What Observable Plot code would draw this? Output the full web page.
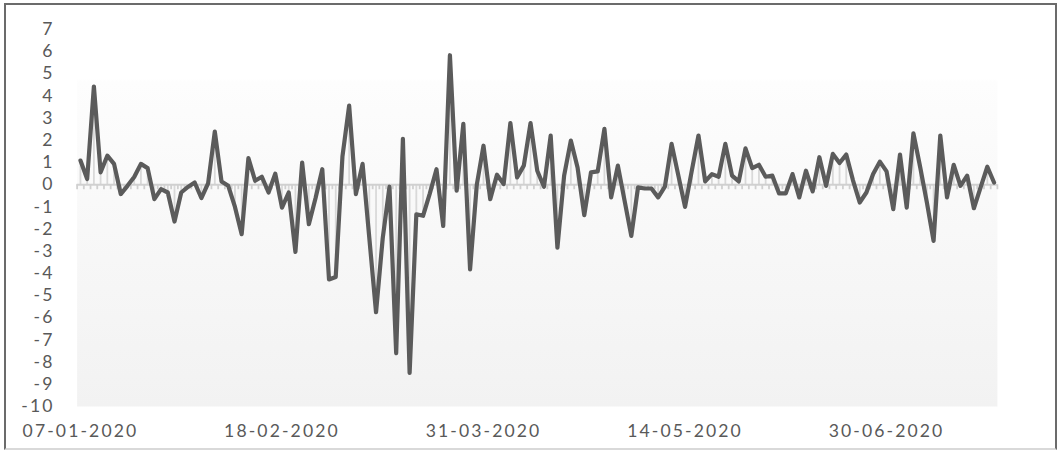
<!DOCTYPE html>
<html>
<head>
<meta charset="utf-8">
<script src="https://cdn.jsdelivr.net/npm/d3@7"></script>
<script src="https://cdn.jsdelivr.net/npm/@observablehq/plot@0.6"></script>
<style>
  html, body { margin: 0; padding: 0; background: #ffffff; }
  #wrap { position: relative; width: 1062px; height: 452px; overflow: hidden; }
  #border { position: absolute; left: 4px; top: 3px; width: 1053px; height: 447px;
            border: 2px solid #6b6b6b; border-bottom-color: #d9d9d9; box-sizing: border-box; pointer-events: none; }
  svg text { font-family: Lato, "Open Sans", sans-serif; }
</style>
</head>
<body>
<div id="wrap"><div id="border"></div></div>
<script>
// Series values (one per trading day, category axis)
const values = [
  1.09, 0.26, 4.43, 0.56, 1.31, 0.94, -0.42, -0.05, 0.35, 0.94,
  0.75, -0.65, -0.2, -0.35, -1.66, -0.35, -0.1, 0.1, -0.6, 0.06,
  2.4, 0.15, -0.05, -1.0, -2.23, 1.2, 0.18, 0.36, -0.35, 0.5,
  -1.03, -0.35, -3.03, 1.0, -1.78, -0.6, 0.7, -4.27, -4.16, 1.27,
  3.57, -0.42, 0.94, -2.4, -5.75, -2.4, -0.09, -7.6, 2.07, -8.49,
  -1.33, -1.4, -0.4, 0.7, -1.86, 5.84, -0.27, 2.75, -3.82, 0.0,
  1.76, -0.65, 0.45, 0.03, 2.78, 0.33, 0.86, 2.78, 0.63, -0.09,
  2.22, -2.84, 0.41, 1.99, 0.78, -1.37, 0.56, 0.6, 2.52, -0.57,
  0.86, -0.72, -2.31, -0.12, -0.17, -0.17, -0.57, -0.09, 1.84, 0.42,
  -1.0, 0.62, 2.22, 0.15, 0.48, 0.36, 1.84, 0.41, 0.15, 1.64,
  0.75, 0.9, 0.36, 0.41, -0.39, -0.39, 0.48, -0.57, 0.63, -0.3,
  1.24, -0.05, 1.39, 0.98, 1.36, 0.2, -0.8, -0.35, 0.48, 1.04,
  0.6, -1.1, 1.36, -1.03, 2.32, 0.8, -0.8, -2.53, 2.22, -0.57,
  0.9, -0.05, 0.41, -1.06, -0.12, 0.81, 0.1
];
// Category tick labels (every 30th category)
const tickIndex = [0, 30, 60, 90, 120];
const tickLabels = ["07-01-2020", "18-02-2020", "31-03-2020", "14-05-2020", "30-06-2020"];
// Value axis ticks
const yTicks = d3.range(-10, 8, 1);

const data = values.map((v, i) => ({i, v}));
const boundaries = d3.range(values.length + 1).map(k => k - 0.5);
const labelData = tickIndex.map((idx, k) => ({i: idx, label: tickLabels[k]}));

const textColor = "#595959";
const fontSize = 17.6;
const ls = "2.1px";

const chart = Plot.plot({
  width: 1062,
  height: 452,
  marginLeft: 76.6,
  marginRight: 65.1,
  marginTop: 29,
  marginBottom: 46,
  style: {background: "transparent", overflow: "visible"},
  x: {type: "linear", domain: [-0.5, values.length - 0.5], axis: null},
  y: {domain: [-10, 7], axis: null},
  marks: [
    Plot.frame({fill: "#f7f7f7", stroke: "none"}),
    Plot.ruleX(data, {x: "i", y1: 0, y2: "v", stroke: "#d9d9d9", strokeWidth: 1.8}),
    Plot.ruleY([0], {stroke: "#d0d0d0", strokeWidth: 2}),
    Plot.ruleX(boundaries, {x: d => d, y1: 0, y2: 0, insetBottom: -5, stroke: "#d0d0d0", strokeWidth: 1.8}),
    Plot.lineY(data, {x: "i", y: "v", stroke: "#5b5b5b", strokeWidth: 4.2, strokeLinejoin: "round", strokeLinecap: "round"}),
    Plot.axisY(yTicks, {
      tickSize: 0, tickPadding: 22.6, tickFormat: d => String(d), label: null,
      fontSize: fontSize, fill: textColor, anchor: "left"
    }),
    Plot.text(labelData, {
      x: "i", y: () => -10, text: "label", dy: 24.5, textAnchor: "middle", lineAnchor: "middle",
      fontSize: fontSize, fill: textColor
    })
  ]
});

// Gradient fill for the plot area
const ns = "http://www.w3.org/2000/svg";
const defs = document.createElementNS(ns, "defs");
defs.innerHTML = `<linearGradient id="bgGrad" x1="0" y1="0" x2="0" y2="1">
  <stop offset="0" stop-color="#ffffff"/>
  <stop offset="0.13" stop-color="#ffffff"/>
  <stop offset="0.14" stop-color="#fdfdfd"/>
  <stop offset="1" stop-color="#f2f2f2"/>
</linearGradient>`;
chart.insertBefore(defs, chart.firstChild);
d3.select(chart).select('g[aria-label="frame"] rect, rect[aria-label="frame"]').attr("fill", "url(#bgGrad)");
d3.select(chart).selectAll("text").style("letter-spacing", ls);

document.getElementById("wrap").insertBefore(chart, document.getElementById("border"));
</script>
</body>
</html>
